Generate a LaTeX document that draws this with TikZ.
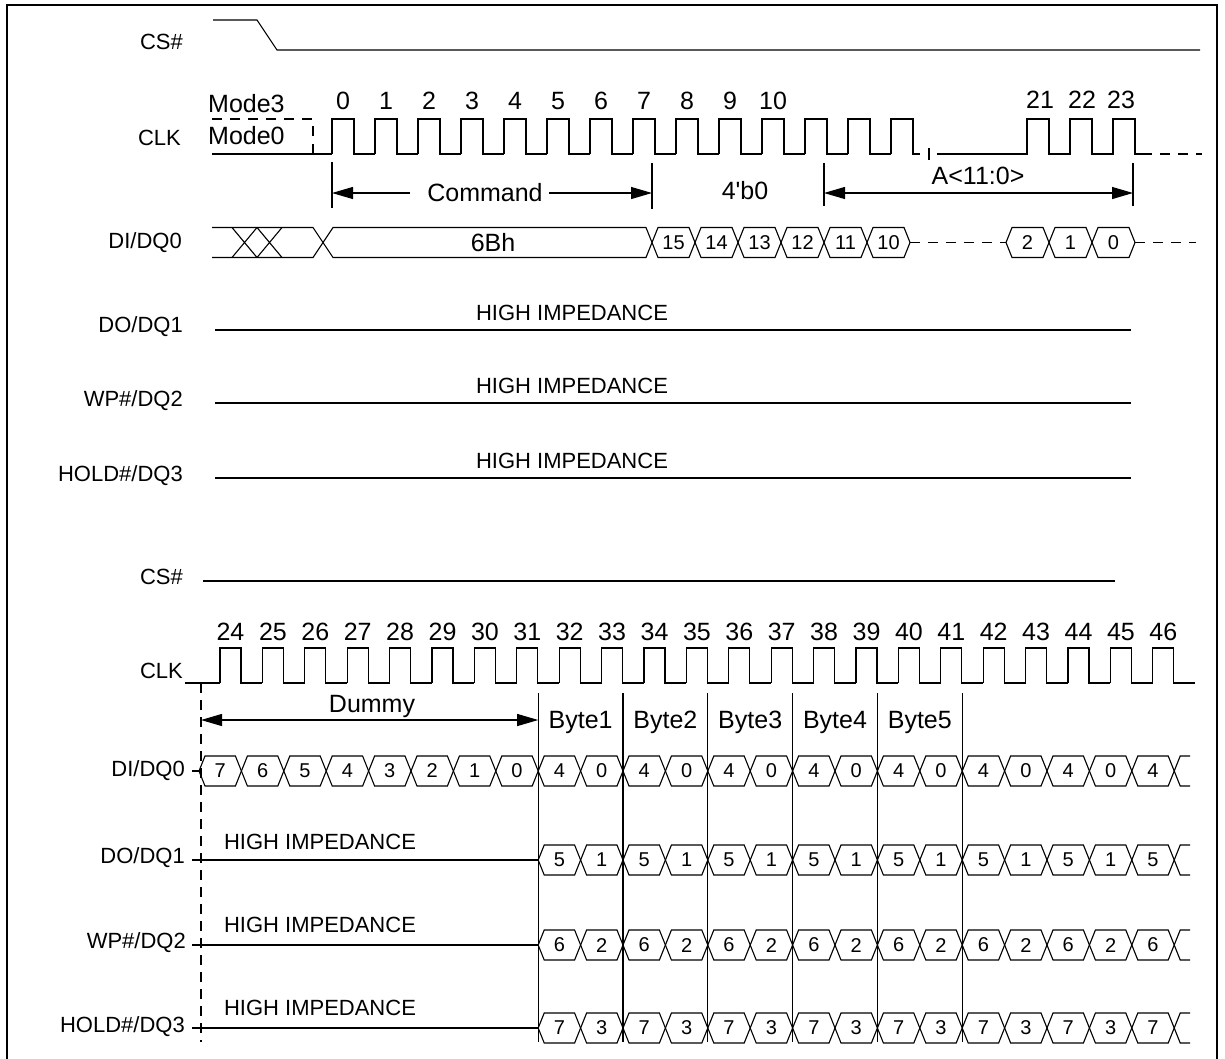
\documentclass[tikz,border=0pt]{standalone}
\usepackage{fontspec}
\setmainfont{Liberation Sans}[Ligatures=TeXOff]
\usetikzlibrary{arrows.meta}
\tikzset{
  sig/.style={line width=1.1pt},
  dsh/.style={sig, dash pattern=on 10pt off 8pt},
  lab/.style={font=\fontsize{22}{24}\selectfont, anchor=east, inner sep=0pt},
  big/.style={font=\fontsize{25}{28}\selectfont, inner sep=0pt},
  hiz/.style={font=\fontsize{22}{24}\selectfont, inner sep=0pt},
  cellt/.style={font=\fontsize{20}{22}\selectfont, inner sep=0pt},
  dimarrow/.style={sig, -{Triangle[length=21pt,width=12pt]}},
  dimboth/.style={sig, {Triangle[length=21pt,width=12pt]}-{Triangle[length=21pt,width=12pt]}},
}
\newcommand\hcell[5]{%
  \draw[sig] (#1,#3) -- ({#1+6},{#3-15}) -- ({#2-6},{#3-15}) -- (#2,#3) -- ({#2-6},{#3+15}) -- ({#1+6},{#3+15}) -- cycle;
  \node[cellt] (#5) at ({(#1+#2)/2},#3) {#4};}
\begin{document}
\begin{tikzpicture}[x=1pt,y=-1pt]
\useasboundingbox (0,0) rectangle (1225,1058);
% frame
\draw[line width=1.6pt] (7,1064) -- (7,5) -- (1217,5) -- (1217,1064);

% ===================== TOP SECTION =====================
\node[lab] (lcs1) at (183,42) {CS\#};
\node[lab] (lclk1) at (181,138) {CLK};
\node[lab] (ldi1) at (182,243) {DI/DQ0};
\node[lab] (ldo1) at (183,327) {DO/DQ1};
\node[lab] (lwp1) at (183,401) {WP\#/DQ2};
\node[lab] (lho1) at (183,476) {HOLD\#/DQ3};

% CS#
\draw[sig] (213,20) -- (257,20) -- (277,50) -- (1200,50);

% CLK
\node[big, anchor=west] (mode3) at (208,104) {Mode3};
\node[big, anchor=west] (mode0) at (208,136) {Mode0};
\draw[dsh] (212,119) -- (313,119) -- (313,154);
\draw[sig] (212,154) -- (332,154);
\foreach \k in {0,...,12} {
  \pgfmathsetmacro\r{332+43*\k}
  \draw[sig] (\r,154) -- (\r,119) -- ({\r+22},119) -- ({\r+22},154) -- ({\r+43},154);
}
\draw[sig] (891,154) -- (891,119) -- (913,119) -- (913,154) -- (920,154);
\draw[sig] (929,148) -- (929,160);
\draw[sig] (937,154) -- (1027,154) -- (1027,119) -- (1049,119) -- (1049,154) -- (1070,154)
  -- (1070,119) -- (1092,119) -- (1092,154) -- (1113,154) -- (1113,119) -- (1135,119)
  -- (1135,154) -- (1142,154);
\draw[dsh] (1142,154) -- (1202,154);
\foreach \n in {0,...,10} \node[big] (ct\n) at ({343+43*\n},101) {\n};
\node[big] (ct21) at (1040,100) {21};
\node[big] (ct22) at (1082,100) {22};
\node[big] (ct23) at (1121,100) {23};

% dimension lines
\draw[sig] (332,162) -- (332,208);
\draw[sig] (652,163) -- (652,209);
\draw[sig] (824,163) -- (824,206);
\draw[sig] (1133,163) -- (1133,206);
\coordinate (cmdL) at (332,193);
\coordinate (cmdR) at (652,193);
\coordinate (cmdA) at (410,193);
\coordinate (cmdB) at (549,193);
\node[big] (cmd) at (485,193) {Command};
\draw[dimarrow] (cmdA) -- (cmdL);
\draw[dimarrow] (cmdB) -- (cmdR);
\node[big] (fourb) at (745,191) {4'b0};
\coordinate (adrL) at (824,193);
\coordinate (adrR) at (1133,193);
\draw[dimboth] (adrL) -- (adrR);
\node[big] (adr) at (978,176) {A<11:0>};

% DI/DQ0 top
\draw[sig] (212,227.5) -- (313,227.5) -- (333,257.5) -- (646,257.5) -- (652,242.5);
\draw[sig] (212,257.5) -- (313,257.5) -- (333,227.5) -- (646,227.5) -- (652,242.5);
\draw[sig] (232,227.5) -- (257,257.5) (232,257.5) -- (257,227.5);
\draw[sig] (257,227.5) -- (282,257.5) (257,257.5) -- (282,227.5);
\node[big] (sixbh) at (493,243) {6Bh};
\foreach \v [count=\j from 0] in {15,14,13,12,11,10} {
  \pgfmathsetmacro\xa{652+43*\j}
  \pgfmathsetmacro\xb{695+43*\j}
  \hcell{\xa}{\xb}{242.5}{\v}{ta\j}
}
\draw[dsh] (910,242.5) -- (1006,242.5);
\foreach \v [count=\j from 0] in {2,1,0} {
  \pgfmathsetmacro\xa{1006+43*\j}
  \pgfmathsetmacro\xb{1049+43*\j}
  \hcell{\xa}{\xb}{242.5}{\v}{tb\j}
}
\draw[dsh] (1135,242.5) -- (1196,242.5);

% high impedance lines top
\draw[sig] (215,330) -- (1131,330);
\draw[sig] (215,403) -- (1131,403);
\draw[sig] (215,478) -- (1131,478);
\node[hiz] (hz1) at (572,313) {HIGH IMPEDANCE};
\node[hiz] (hz2) at (572,386) {HIGH IMPEDANCE};
\node[hiz] (hz3) at (572,461) {HIGH IMPEDANCE};

% ===================== BOTTOM SECTION =====================
\node[lab] (lcs2) at (183,577) {CS\#};
\node[lab] (lclk2) at (183,671) {CLK};
\node[lab] (ldi2) at (185,771) {DI/DQ0};
\node[lab] (ldo2) at (185,858) {DO/DQ1};
\node[lab] (lwp2) at (186,943) {WP\#/DQ2};
\node[lab] (lho2) at (185,1027) {HOLD\#/DQ3};

\draw[sig] (203,581) -- (1115,581);

% CLK bottom
\draw[sig] (185,683) -- (220,683);
\foreach \k in {0,...,22} {
  \pgfmathsetmacro\r{220+42.4*\k}
  \draw[sig] (\r,683) -- (\r,648) -- ({\r+21},648) -- ({\r+21},683) -- ({\r+42.4},683);
}
\draw[sig] (1174,683) -- (1190,683);
\foreach \n [count=\k from 0] in {24,...,46} \node[big] (cb\n) at ({230.5+42.4*\k},632) {\n};

% dashed and byte lines
\draw[sig, dash pattern=on 10pt off 7pt] (201,683) -- (201,1042);
\foreach \i in {8,10,...,18} {
  \pgfmathsetmacro\xx{199+42.4*\i}
  \draw[sig] (\xx,693) -- (\xx,1042);
}
\coordinate (dumL) at (201,720);
\coordinate (dumR) at (538.2,720);
\draw[dimboth] (dumL) -- (dumR);
\node[big] (dummy) at (372,706) {Dummy};
\foreach \b [count=\i from 0] in {1,...,5} \node[big] (byte\b) at ({580.6+84.8*\i},722) {Byte\b};

% DI/DQ0 bottom
\draw[sig] (192,771) -- (201,771);
\foreach \v [count=\j from 0] in {7,6,5,4,3,2,1,0,4,0,4,0,4,0,4,0,4,0,4,0,4,0,4} {
  \pgfmathsetmacro\xa{199+42.4*\j}
  \pgfmathsetmacro\xb{199+42.4*(\j+1)}
  \hcell{\xa}{\xb}{771}{\v}{bd\j}
}
% DO/DQ1, WP#/DQ2, HOLD#/DQ3 bottom
\draw[sig] (192,860) -- (538.2,860);
\draw[sig] (192,945) -- (538.2,945);
\draw[sig] (192,1028) -- (538.2,1028);
\node[hiz] (hz4) at (320,842) {HIGH IMPEDANCE};
\node[hiz] (hz5) at (320,925) {HIGH IMPEDANCE};
\node[hiz] (hz6) at (320,1008) {HIGH IMPEDANCE};
\foreach \v [count=\j from 8] in {5,1,5,1,5,1,5,1,5,1,5,1,5,1,5} {
  \pgfmathsetmacro\xa{199+42.4*\j}
  \pgfmathsetmacro\xb{199+42.4*(\j+1)}
  \hcell{\xa}{\xb}{860}{\v}{bo\j}
}
\foreach \v [count=\j from 8] in {6,2,6,2,6,2,6,2,6,2,6,2,6,2,6} {
  \pgfmathsetmacro\xa{199+42.4*\j}
  \pgfmathsetmacro\xb{199+42.4*(\j+1)}
  \hcell{\xa}{\xb}{945}{\v}{bw\j}
}
\foreach \v [count=\j from 8] in {7,3,7,3,7,3,7,3,7,3,7,3,7,3,7} {
  \pgfmathsetmacro\xa{199+42.4*\j}
  \pgfmathsetmacro\xb{199+42.4*(\j+1)}
  \hcell{\xa}{\xb}{1028}{\v}{bh\j}
}
\foreach \y in {771,860,945,1028} {
  \draw[sig] (1174.2,\y) -- (1180.2,{\y-15}) -- (1190,{\y-15});
  \draw[sig] (1174.2,\y) -- (1180.2,{\y+15}) -- (1190,{\y+15});
}
\end{tikzpicture}
\end{document}
